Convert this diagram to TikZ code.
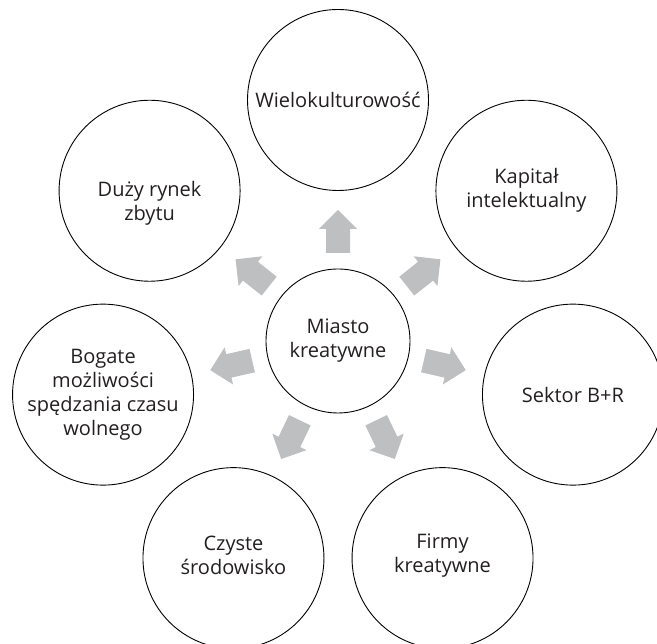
\documentclass[tikz,border=0pt]{standalone}
\usepackage{fontspec}
\setmainfont{Open Sans}
\usetikzlibrary{calc}
\definecolor{arrowgray}{RGB}{190,191,193}
\definecolor{textgray}{RGB}{35,31,32}
\begin{document}
\begin{tikzpicture}[x=1pt,y=1pt,
  bubble/.style={circle,draw=black,line width=0.9pt,minimum size=181pt,inner sep=0pt,align=center,font=\fontsize{20}{24}\selectfont,text=textgray},
  hub/.style={bubble,minimum size=144pt},
  plain/.style={inner sep=0pt,align=center,font=\fontsize{20}{24}\selectfont,text=textgray},
  blockarrow/.style={fill=arrowgray}]
\useasboundingbox (0,0) rectangle (657,644);
\node[hub] (c) at (338,303) {Miasto\\kreatywne};
\node[bubble] (n1) at ($(c)+(90:241)$) {Wielokulturowość};
\node[bubble] (n2) at ($(c)+(38.57:241)$) {Kapitał\\intelektualny};
\node[bubble] (n3) at ($(c)+(-12.86:241)$) {Sektor B+R};
\node[bubble] (n4) at ($(c)+(-64.29:241)$) {};
\node[plain] (t4) at ([yshift=3pt]n4.center) {Firmy\\kreatywne};
\node[bubble] (n5) at ($(c)+(-115.71:241)$) {};
\node[plain] (t5) at ([yshift=3pt]n5.center) {Czyste\\środowisko};
\node[bubble] (n6) at ($(c)+(-167.14:241)$) {Bogate\\możliwości\\spędzania czasu\\wolnego};
\node[bubble] (n7) at ($(c)+(141.43:241)$) {};
\node[plain] (t7) at ([yshift=-13pt]n7.center) {Duży rynek\\zbytu};
\foreach \a in {90,38.57,-12.86,-64.29,-115.71,-167.14,141.43}{
  \begin{scope}[shift={(c)},rotate=\a]
    \fill[blockarrow] (88,-12) -- (112,-12) -- (112,-19) -- (131,0) -- (112,19) -- (112,12) -- (88,12) -- cycle;
  \end{scope}
}
\end{tikzpicture}
\end{document}
